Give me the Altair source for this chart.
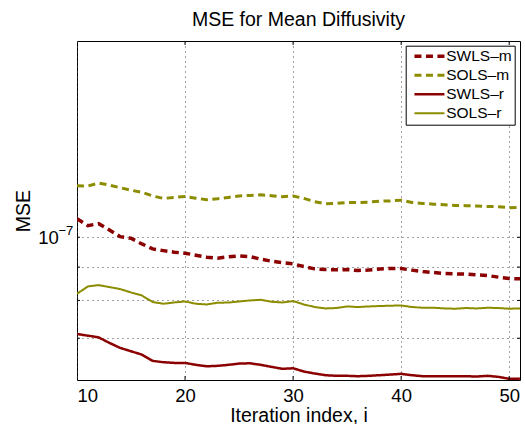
import altair as alt
import pandas as pd

iterations = list(range(10, 52))

swls_m = [1.068e-7, 1.042e-7, 1.049e-7, 1.026e-7, 1.002e-7, 0.9965e-7, 0.9767e-7, 0.9596e-7, 0.9539e-7, 0.9486e-7,
          0.9452e-7, 0.9386e-7, 0.9320e-7, 0.9288e-7, 0.9330e-7, 0.9363e-7, 0.9340e-7, 0.9255e-7, 0.9190e-7, 0.9145e-7,
          0.9103e-7, 0.9016e-7, 0.8944e-7, 0.8923e-7, 0.8913e-7, 0.8923e-7, 0.8892e-7, 0.8908e-7, 0.8939e-7, 0.8954e-7,
          0.8954e-7, 0.8904e-7, 0.8860e-7, 0.8829e-7, 0.8796e-7, 0.8787e-7, 0.8778e-7, 0.8757e-7, 0.8735e-7, 0.8686e-7,
          0.8643e-7, 0.8634e-7]

sols_m = [1.199e-7, 1.198e-7, 1.211e-7, 1.202e-7, 1.191e-7, 1.181e-7, 1.172e-7, 1.157e-7, 1.147e-7, 1.151e-7,
          1.155e-7, 1.148e-7, 1.142e-7, 1.146e-7, 1.151e-7, 1.157e-7, 1.159e-7, 1.162e-7, 1.158e-7, 1.154e-7,
          1.157e-7, 1.147e-7, 1.134e-7, 1.126e-7, 1.127e-7, 1.131e-7, 1.130e-7, 1.132e-7, 1.136e-7, 1.137e-7,
          1.140e-7, 1.131e-7, 1.127e-7, 1.124e-7, 1.122e-7, 1.119e-7, 1.118e-7, 1.117e-7, 1.115e-7, 1.114e-7,
          1.110e-7, 1.111e-7]

swls_r = [0.7106e-7, 0.7064e-7, 0.7022e-7, 0.6885e-7, 0.6765e-7, 0.6685e-7, 0.6607e-7, 0.6462e-7, 0.6431e-7, 0.6416e-7,
          0.6416e-7, 0.6372e-7, 0.6340e-7, 0.6350e-7, 0.6372e-7, 0.6401e-7, 0.6407e-7, 0.6372e-7, 0.6327e-7, 0.6283e-7,
          0.6296e-7, 0.6223e-7, 0.6180e-7, 0.6143e-7, 0.6130e-7, 0.6130e-7, 0.6121e-7, 0.6130e-7, 0.6143e-7, 0.6157e-7,
          0.6173e-7, 0.6143e-7, 0.6121e-7, 0.6121e-7, 0.6121e-7, 0.6121e-7, 0.6121e-7, 0.6114e-7, 0.6130e-7, 0.6107e-7,
          0.6065e-7, 0.6065e-7]

sols_r = [0.8190e-7, 0.8404e-7, 0.8445e-7, 0.8386e-7, 0.8328e-7, 0.8229e-7, 0.8142e-7, 0.7955e-7, 0.7907e-7, 0.7943e-7,
          0.7971e-7, 0.7907e-7, 0.7887e-7, 0.7935e-7, 0.7940e-7, 0.7971e-7, 0.8000e-7, 0.8018e-7, 0.7963e-7, 0.7943e-7,
          0.7982e-7, 0.7887e-7, 0.7816e-7, 0.7777e-7, 0.7788e-7, 0.7832e-7, 0.7816e-7, 0.7832e-7, 0.7843e-7, 0.7852e-7,
          0.7859e-7, 0.7816e-7, 0.7796e-7, 0.7796e-7, 0.7777e-7, 0.7769e-7, 0.7788e-7, 0.7777e-7, 0.7796e-7, 0.7788e-7,
          0.7769e-7, 0.7777e-7]

series_names = ["SWLS–m", "SOLS–m", "SWLS–r", "SOLS–r"]
series_colors = ["#8b0000", "#8c8c00", "#8b0000", "#8c8c00"]
series_dash = [[7, 4.5], [7, 4.5], [1, 0], [1, 0]]
series_width = [3.5, 2, 3.5, 2]

x_ticks = [10, 20, 30, 40, 50]
y_grid = [7e-8, 8e-8, 9e-8, 1e-7]
y_domain = [6.04e-8, 2e-7]
x_domain = [10, 51]

rows = []
for name, vals in zip(series_names, [swls_m, sols_m, swls_r, sols_r]):
    for it, v in zip(iterations, vals):
        rows.append({"iter": it, "mse": v, "series": name})
df = pd.DataFrame(rows)

FONT = "Liberation Sans"
W, H = 443, 339

leg = dict(title=None, orient="none", legendX=328.7, legendY=4.7,
           fillColor="white", strokeColor="black", padding=2.7,
           symbolType="M-3,0H3", symbolSize=100, symbolOffset=13.3,
           symbolFillColor="transparent",
           labelFontSize=15.5, labelFont=FONT, labelColor="black",
           rowPadding=2.05, labelOffset=9, cornerRadius=0)

lines = alt.Chart(df).mark_line(clip=True).encode(
    x=alt.X("iter:Q", scale=alt.Scale(domain=x_domain, nice=False, zero=False),
            axis=alt.Axis(values=x_ticks, title="Iteration index, i", labelFontSize=18.5,
                          titleFontSize=19.5, labelPadding=6.5, ticks=False, grid=True,
                          titleY=41, titleBaseline="alphabetic")),
    y=alt.Y("mse:Q", scale=alt.Scale(type="log", domain=y_domain, nice=False, zero=False),
            axis=alt.Axis(values=y_grid, title="MSE", labelFontSize=18.5, titleFontSize=19.5,
                          labelPadding=18.7, titlePadding=4, ticks=False, grid=True,
                          labelExpr="abs(datum.value - 1e-7) < 1e-12 ? '10' : ''")),
    color=alt.Color("series:N", sort=series_names,
                    scale=alt.Scale(domain=series_names, range=series_colors),
                    legend=alt.Legend(**leg)),
    strokeDash=alt.StrokeDash("series:N", sort=series_names,
                              scale=alt.Scale(domain=series_names, range=series_dash),
                              legend=alt.Legend(**leg)),
    strokeWidth=alt.StrokeWidth("series:N", sort=series_names,
                                scale=alt.Scale(domain=series_names, range=series_width),
                                legend=alt.Legend(**leg)),
)

# inward tick marks (MATLAB box style)
xt_df = pd.DataFrame({"iter": x_ticks[1:]})
xticks_bottom = alt.Chart(xt_df).mark_rule(color="black", strokeWidth=1).encode(
    x="iter:Q", y=alt.value(H), y2=alt.value(H - 4))
xticks_top = alt.Chart(xt_df).mark_rule(color="black", strokeWidth=1).encode(
    x="iter:Q", y=alt.value(0), y2=alt.value(4))
yt_df = pd.DataFrame({"mse": y_grid})
yticks_left = alt.Chart(yt_df).mark_rule(color="black", strokeWidth=1).encode(
    y="mse:Q", x=alt.value(0), x2=alt.value(3))
yticks_right = alt.Chart(yt_df).mark_rule(color="black", strokeWidth=1).encode(
    y="mse:Q", x=alt.value(W), x2=alt.value(W - 3))

exp_df = pd.DataFrame({"mse": [1e-7], "t": ["−7"]})
exponent = alt.Chart(exp_df).mark_text(align="right", baseline="alphabetic", fontSize=13,
                                        font=FONT, color="black", dy=-2.5).encode(
    x=alt.value(-3.7),
    y=alt.Y("mse:Q"),
    text="t:N",
)

chart = alt.layer(lines, xticks_bottom, xticks_top, yticks_left, yticks_right, exponent).properties(
    width=W, height=H,
    title=alt.TitleParams("MSE for Mean Diffusivity", fontSize=19.5, font=FONT,
                          fontWeight="normal", color="black", offset=10, anchor="middle"),
    padding={"left": 77, "top": 41, "right": 5, "bottom": 44},
    autosize=alt.AutoSizeParams(type="none"),
).configure_view(
    stroke="black", strokeWidth=1
).configure_axis(
    domain=False, gridColor="#444444", gridDash=[1, 4], gridWidth=1, gridOpacity=1,
    labelFont=FONT, titleFont=FONT, labelColor="black", titleColor="black",
    titleFontWeight="normal"
)

chart.save("out.html", embed_options={"renderer": "svg", "actions": False})
